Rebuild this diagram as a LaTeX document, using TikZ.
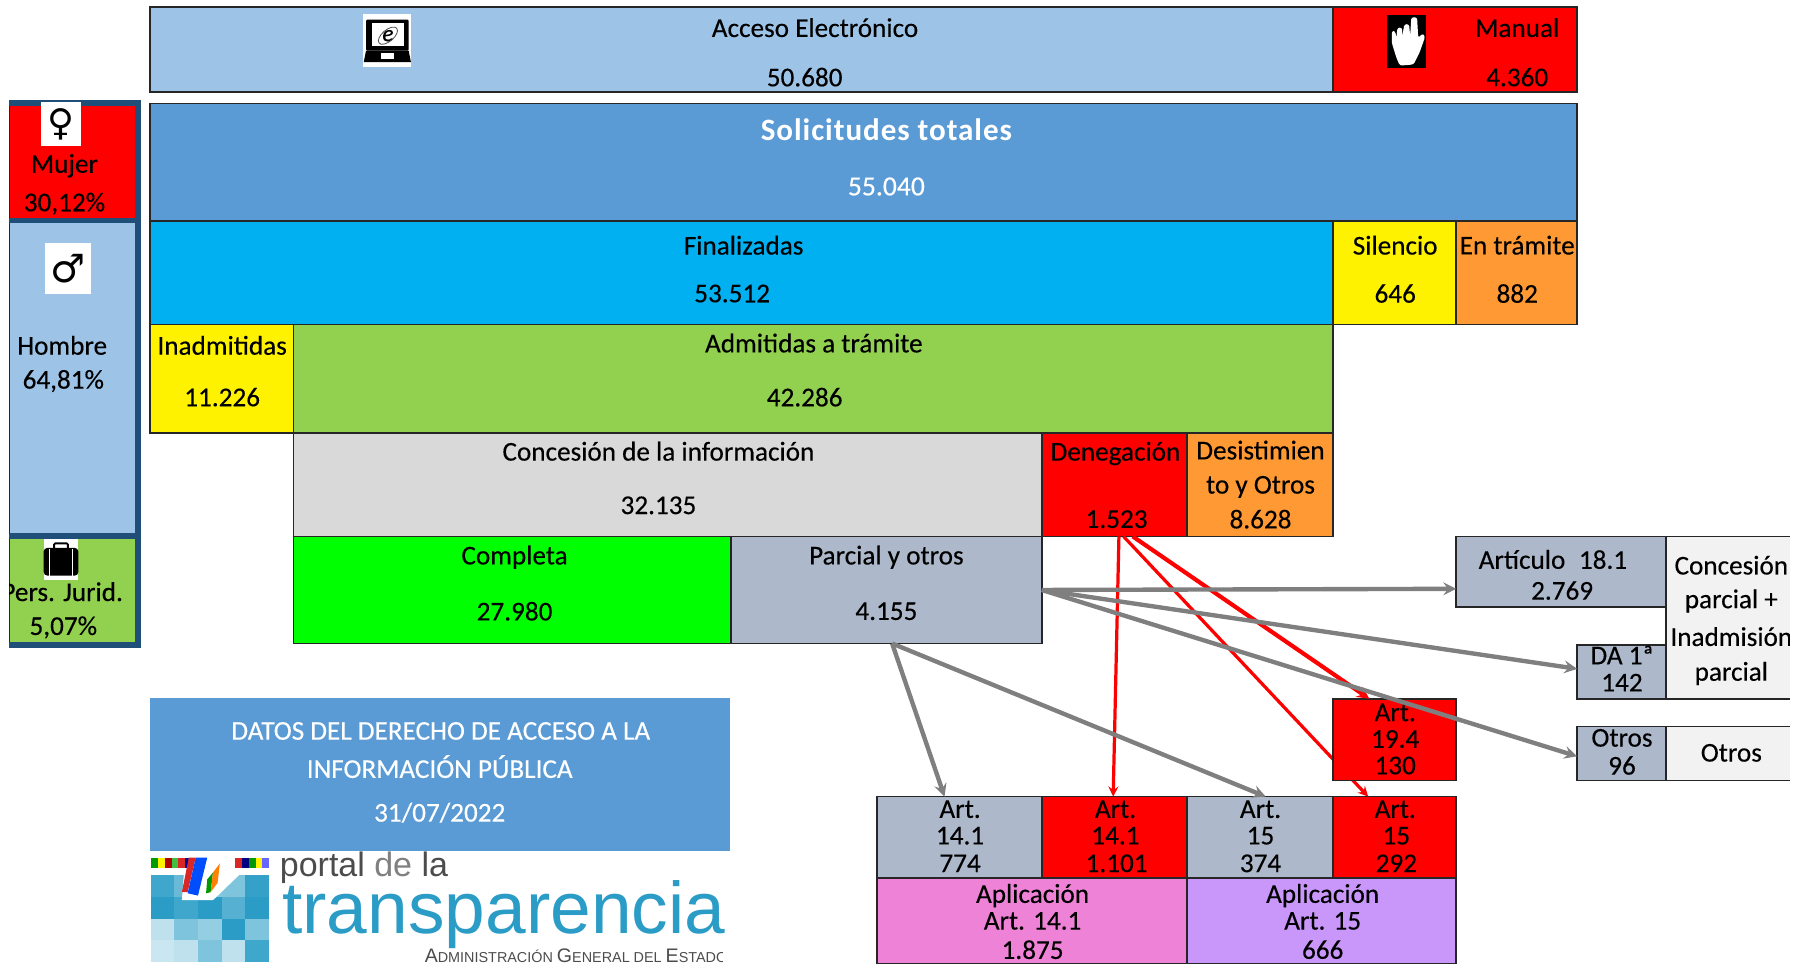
\documentclass[tikz,border=0pt]{standalone}
\usepackage{fontspec}
\setmainfont{Carlito}[FakeBold=0.3]
\newfontfamily\symfont{DejaVu Sans}
\newfontfamily\logofont{Liberation Sans}
\newfontfamily\tituloFont{Carlito}[LetterSpace=3]
\definecolor{acceso}{HTML}{9DC3E6}
\definecolor{solicitudes}{HTML}{5B9BD5}
\definecolor{finalizadas}{HTML}{00B0F0}
\definecolor{tramite}{HTML}{FF9933}
\definecolor{admitidas}{HTML}{92D050}
\definecolor{concesion}{HTML}{D9D9D9}
\definecolor{parcial}{HTML}{ADB9CA}
\definecolor{claro}{HTML}{F2F2F2}
\definecolor{rosa}{HTML}{EE82D6}
\definecolor{lila}{HTML}{C996FA}
\definecolor{marino}{HTML}{1F4E79}
\definecolor{logoazul}{HTML}{2A9CC6}
\definecolor{flecha}{HTML}{7F7F7F}
% box from its top left corner: name, x, y, width, height, colour
\newcommand{\caja}[6]{\node[caja,fill=#6,minimum width=#4pt,minimum height=#5pt] (#1) at (#2+#4/2,#3+#5/2) {};}
\tikzset{
  caja/.style={draw=black!85,line width=1.5pt,inner sep=0pt,outer sep=0pt},
  etiq/.style={font=\fontsize{23.6}{26}\selectfont,inner sep=0pt,text=black},
  blanco/.style={etiq,text=white},
  icono/.style={fill=white,inner sep=0pt},
  gris/.style={->,flecha,line width=3.8pt},
  rojo/.style={->,red,line width=2.8pt},
}
\begin{document}
\begin{tikzpicture}[x=1pt,y=-1pt,>=stealth]
  \useasboundingbox (0,0) rectangle (1568,837);
  % upper rows
  \caja{acc}{130}{6}{1028}{74}{acceso}
  \caja{man}{1158}{6}{212}{74}{red}
  \caja{sol}{130}{90}{1240}{102}{solicitudes}
  \caja{fin}{130}{192}{1028}{90}{finalizadas}
  \caja{sil}{1158}{192}{107}{90}{yellow}
  \caja{tra}{1265}{192}{105}{90}{tramite}
  \caja{ina}{130}{282}{125}{94}{yellow}
  \caja{adm}{255}{282}{903}{94}{admitidas}
  \caja{con}{255}{376}{650}{90}{concesion}
  \caja{den}{905}{376}{126}{90}{red}
  \caja{des}{1031}{376}{127}{90}{tramite}
  \caja{com}{255}{466}{380}{93}{green}
  \caja{par}{635}{466}{270}{93}{parcial}
  % left column
  \caja{muj}{8}{90}{110}{101}{red}
  \caja{hom}{8}{193}{110}{273}{acceso}
  \caja{jur}{8}{466}{110}{94}{admitidas}
  \draw[marino,line width=5pt] (8,89.5) -- (120,89.5) -- (120,560) -- (8,560);
  \draw[marino,line width=5pt] (8,191.5) -- (120,191.5) (8,465.5) -- (120,465.5);
  % right side
  \caja{a18}{1265}{466}{182}{61}{parcial}
  \caja{cpi}{1447}{466}{120}{141}{claro}
  \caja{da1}{1370}{560}{77}{47}{parcial}
  \caja{otn}{1370}{631}{77}{47}{parcial}
  \caja{otr}{1447}{631}{120}{47}{claro}
  % lower rows
  \caja{agr}{762}{692}{143}{71}{parcial}
  \caja{are}{905}{692}{126}{71}{red}
  \caja{bgr}{1031}{692}{127}{71}{parcial}
  \caja{bre}{1158}{692}{107}{71}{red}
  \caja{apa}{762}{763}{269}{74}{rosa}
  \caja{apb}{1031}{763}{234}{74}{lila}
  \draw[rojo] ([xshift=8pt]den.south) -- ([xshift=-23pt]bre.north);
  \caja{a19}{1158}{607}{107}{71}{red}
  % titles of the boxes
  \node[etiq] (acc1) at (708,24) {Acceso Electrónico};
  \node[etiq] (acc2) at (699,67) {50.680};
  \node[etiq] (man1) at (1318,24) {Manual};
  \node[etiq] (man2) at (1318,67) {4.360};
  \node[blanco,font=\fontsize{27}{30}\selectfont\tituloFont\bfseries] (sol1) at (770,113) {Solicitudes totales};
  \node[blanco,font=\fontsize{24}{26}\selectfont] (sol2) at (770,162) {55.040};
  \node[etiq] (fin1) at (646,213) {Finalizadas};
  \node[etiq] (fin2) at (636,255) {53.512};
  \node[etiq] (sil1) at (1212,213) {Silencio};
  \node[etiq] (sil2) at (1212,255) {646};
  \node[etiq] (tra1) at (1318,213) {En trámite};
  \node[etiq] (tra2) at (1318,255) {882};
  \node[etiq] (ina1) at (193,300) {Inadmitidas};
  \node[etiq] (ina2) at (193,345) {11.226};
  \node[etiq] (adm1) at (707,298) {Admitidas a trámite};
  \node[etiq] (adm2) at (699,345) {42.286};
  \node[etiq] (con1) at (572,392) {Concesión de la información};
  \node[etiq] (con2) at (572,439) {32.135};
  \node[etiq] (den1) at (969,394) {Denegación};
  \node[etiq] (den2) at (970,451) {1.523};
  \node[etiq] (des1) at (1095,391) {Desistimien};
  \node[etiq] (des2) at (1095,423) {to y Otros};
  \node[etiq] (des3) at (1095,451) {8.628};
  \node[etiq] (com1) at (447,484) {Completa};
  \node[etiq] (com2) at (447,531) {27.980};
  \node[etiq] (par1) at (770,484) {Parcial y otros};
  \node[etiq] (par2) at (770,531) {4.155};
  \node[etiq] (muj1) at (56,144) {Mujer};
  \node[etiq] (muj2) at (56,177) {30,12\%};
  \node[etiq] (hom1) at (54,300) {Hombre};
  \node[etiq] (hom2) at (55,331) {64,81\%};
  \node[etiq] (jur1) at (54,514) {Pers. Jurid.};
  \node[etiq] (jur2) at (55,545) {5,07\%};
  \node[etiq] (a181) at (1349,486) {Artículo\enspace 18.1};
  \node[etiq] (a182) at (1357,513) {2.769};
  \node[etiq] (cpi1) at (1504,491) {Concesión};
  \node[etiq] (cpi2) at (1504,522) {parcial +};
  \node[etiq] (cpi3) at (1504,553) {Inadmisión};
  \node[etiq] (cpi4) at (1504,585) {parcial};
  \node[etiq] (da11) at (1409,569) {DA 1ª};
  \node[etiq] (da12) at (1409,593) {142};
  \node[etiq] (otn1) at (1409,641) {Otros};
  \node[etiq] (otn2) at (1409,665) {96};
  \node[etiq] (otr1) at (1504,654) {Otros};
  \node[etiq] (a191) at (1212,619) {Art.};
  \node[etiq] (a192) at (1212,642) {19.4};
  \node[etiq] (a193) at (1212,665) {130};
  \node[etiq] (agr1) at (834,703) {Art.};
  \node[etiq] (agr2) at (834,726) {14.1};
  \node[etiq] (agr3) at (834,750) {774};
  \node[etiq] (are1) at (969,703) {Art.};
  \node[etiq] (are2) at (969,726) {14.1};
  \node[etiq] (are3) at (970,750) {1.101};
  \node[etiq] (bgr1) at (1095,703) {Art.};
  \node[etiq] (bgr2) at (1095,726) {15};
  \node[etiq] (bgr3) at (1095,750) {374};
  \node[etiq] (bre1) at (1212,703) {Art.};
  \node[etiq] (bre2) at (1213,726) {15};
  \node[etiq] (bre3) at (1213,750) {292};
  \node[etiq] (apa1) at (897,778) {Aplicación};
  \node[etiq] (apa2) at (897,800) {Art. 14.1};
  \node[etiq] (apa3) at (897,825) {1.875};
  \node[etiq] (apb1) at (1149,778) {Aplicación};
  \node[etiq] (apb2) at (1149,800) {Art. 15};
  \node[etiq] (apb3) at (1149,825) {666};
  % connectors
  \draw[rojo] ([xshift=4pt]den.south) -- ([xshift=-1pt]are.north);
  \draw[rojo,line width=3.6pt] ([xshift=16pt]den.south) -- ([xshift=-22pt]a19.north);
  \draw[gris] (par.east) -- ([yshift=-15pt]a18.west);
  \draw[gris] (par.east) -- ([yshift=2.5pt]da1.west);
  \draw[gris] (par.east) -- ([yshift=-2.5pt]otn.west);
  \draw[gris] ([xshift=5pt]par.south) -- ([xshift=-13pt]agr.north);
  \draw[gris] ([xshift=5pt]par.south) -- ([xshift=5pt]bgr.north);
  % icons
  \node[icono,minimum width=42pt,minimum height=46pt] (ordena) at (336,35) {};
  \fill[black,rounded corners=1pt] (318,17) rectangle (355,44);
  \fill[black] (318,44) -- (355,44) -- (357,54) -- (316,54) -- cycle;
  \fill[white] (323,20) rectangle (351,40);
  \fill[white] (331,46) rectangle (342,51);
  \node[font=\fontsize{20}{20}\selectfont\itshape,inner sep=0pt] (navega) at (337,31) {e};
  \draw[black!70,line width=0.7pt,rotate around={40:(337,31)}] (337,31) ellipse (10pt and 5pt);
  \node[fill=black,minimum width=34pt,minimum height=46pt,inner sep=0pt] (mano) at (1222,36) {};
  \fill[white,rounded corners=2pt] (1213,50) -- (1209,37) -- (1209,27) -- (1212,27) -- (1213,33) -- (1214,24) -- (1218,24) -- (1218,32) -- (1220,21) -- (1224,21) -- (1225,31) -- (1226,15) -- (1231,15) -- (1232,33) -- (1236,29) -- (1238,32) -- (1233,46) -- (1228,56) -- (1216,57) -- cycle;
  \node[icono,minimum width=34pt,minimum height=38pt] (femen) at (53,108) {};
  \node[font=\fontsize{32}{32}\selectfont\symfont,inner sep=0pt] (femen1) at (53,108) {♀};
  \node[icono,minimum width=40pt,minimum height=44pt] (mascu) at (59,233) {};
  \node[font=\fontsize{34}{34}\selectfont\symfont,inner sep=0pt] (mascu1) at (59,233) {♂};
  \node[icono,minimum width=30pt,minimum height=36pt] (malet) at (53,486) {};
  \fill[black,rounded corners=3pt] (38,476) rectangle (68,500);
  \draw[black,line width=1.6pt,rounded corners=1pt] (47,476) -- (47,472) -- (59,472) -- (59,476);
  \draw[white,line width=1pt] (43,477) -- (43,500) (63,477) -- (63,500);
  % title panel
  \node[fill=solicitudes,minimum width=504pt,minimum height=133pt,inner sep=0pt] (titulo) at (382,672.5) {};
  \node[blanco] (tit1) at (383,635) {DATOS DEL DERECHO DE ACCESO A LA};
  \node[blanco] (tit2) at (382,666) {INFORMACIÓN PÚBLICA};
  \node[blanco] (tit3) at (382,706) {31/07/2022};
  % logo
  \foreach \i/\j/\t in {0/0/90,1/0/70,3/0/60,4/0/95,0/1/100,1/1/90,2/1/100,3/1/80,4/1/100,0/2/30,1/2/60,2/2/50,3/2/100,4/2/60,0/3/25,1/3/30,2/3/60,3/3/30,4/3/90}
    \fill[logoazul!\t] (131+20.5*\i,760+19*\j) rectangle ++(20.5,19);
  \fill[logoazul!55] (172,760) rectangle ++(20.5,19);
  \fill[white] (165,742) -- (192,742) -- (212,742) -- (212,756) -- (185,782) -- (158,782) -- (160,756) -- cycle;
  \foreach \i/\c in {0/green!60!black,1/yellow,2/red!70!black,3/green!50!gray,4/red!70!gray,5/blue!60!black}
    \fill[\c] (131+6*\i,745) rectangle ++(6,9);
  \foreach \i/\c in {0/red!70!gray,1/blue!50!black,2/green!60!black,3/yellow,4/blue!60}
    \fill[\c] (204+6*\i,745) rectangle ++(6,9);
  \fill[red!70!gray] (164,745) -- (170,745) -- (163,775) -- (158,775) -- cycle;
  \fill[blue!70!cyan] (170,745) -- (180,745) -- (172,778) -- (163,776) -- cycle;
  \fill[green!60!black] (180,764) -- (185,758) -- (183,775) -- (179,776) -- cycle;
  \fill[orange] (185,758) -- (191,750) -- (189,767) -- (183,775) -- cycle;
  \node[font=\fontsize{29.5}{30}\selectfont\logofont,text=black!70,inner sep=0pt,anchor=base west] (logo1) at (243,761) {portal \textcolor{black!50}{de} la};
  \node[font=\fontsize{63.5}{70}\selectfont\logofont,text=logoazul,inner sep=0pt,anchor=base west] (logo2) at (245,811) {transparencia};
  \node[font=\fontsize{12.5}{13}\selectfont\logofont,text=black!70,inner sep=0pt,anchor=base east] (logo3) at (632,836) {{\fontsize{17}{17}\selectfont A}DMINISTRACIÓN {\fontsize{17}{17}\selectfont G}ENERAL DEL {\fontsize{17}{17}\selectfont E}STADO};
  \fill[white] (628,822) rectangle (640,837);
  % the edges of the picture cut the boxes
  \fill[white] (1555,0) rectangle (1568,837);
  \fill[white] (0,0) rectangle (8,837);
\end{tikzpicture}
\end{document}
